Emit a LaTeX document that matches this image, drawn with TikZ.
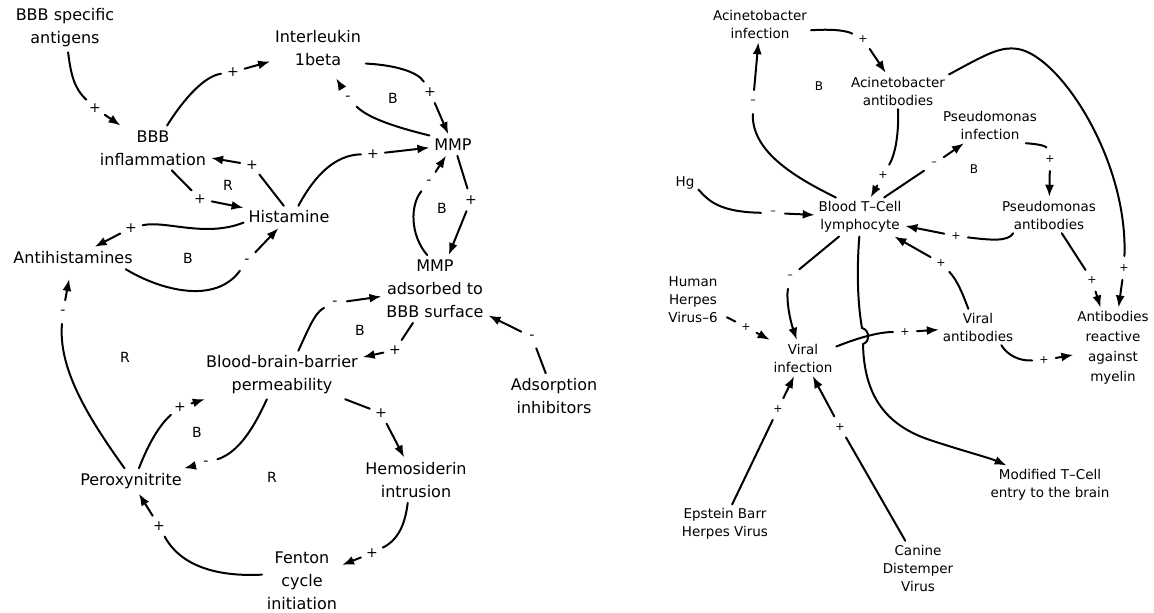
\documentclass[tikz,border=0pt]{standalone}
\usepackage{fontspec}
\setmainfont{DejaVu Sans}
\usetikzlibrary{arrows.meta}
\begin{document}
\begin{tikzpicture}[x=1pt,y=-1pt,
  line width=2pt, line cap=round,
  lab/.style={align=center, inner sep=4pt, font=\fontsize{16}{23}\selectfont},
  rlab/.style={align=center, inner sep=3pt, font=\fontsize{13.5}{18}\selectfont},
  pol/.style={circle, inner sep=0pt, minimum size=22pt, font=\fontsize{14}{14}\selectfont},
  rpol/.style={circle, inner sep=0pt, minimum size=22pt, font=\fontsize{11}{11}\selectfont},
  loopmark/.style={inner sep=0pt, font=\fontsize{14}{14}\selectfont},
  rloopmark/.style={inner sep=0pt, font=\fontsize{12}{12}\selectfont},
  arr/.style={-{Latex[length=12pt,width=9pt]}},
]
\fill[white] (0,0) rectangle (1154,613);
\path[use as bounding box] (0,0) rectangle (1154,613);

% ---------- left loop: blood-brain barrier ----------
\node[lab] (ant)   at (65,28)   {BBB specific\\antigens};
\node[lab] (il)    at (318,48)  {Interleukin\\1beta};
\node[lab] (inf)   at (153,148) {BBB\\inflammation};
\node[lab] (mmp)   at (453,145) {MMP};
\node[lab] (his)   at (289,217) {Histamine};
\node[lab] (ahis)  at (73,258)  {Antihistamines};
\node[lab] (ads)   at (435,289) {MMP\\adsorbed to\\BBB surface};
\node[lab] (bbbp)  at (282,375) {Blood-brain-barrier\\permeability};
\node[lab] (ainh)  at (554,396) {Adsorption\\inhibitors};
\node[lab] (perox) at (131,481) {Peroxynitrite};
\node[lab] (hemo)  at (416,480) {Hemosiderin\\intrusion};
\node[lab] (fen)   at (302,581) {Fenton\\cycle\\initiation};

% loop markers
\node[loopmark] (lb1) at (393,98)  {B};
\node[loopmark] (lr1) at (228,185) {R};
\node[loopmark] (lb2) at (188,258) {B};
\node[loopmark] (lb3) at (442,208) {B};
\node[loopmark] (lb4) at (360,330) {B};
\node[loopmark] (lr2) at (125,357) {R};
\node[loopmark] (lb5) at (197,432) {B};
\node[loopmark] (lr3) at (272,477) {R};

% link polarities
\node[pol] (p1)  at (95,108)  {+};
\node[pol] (p2)  at (233,72)  {+};
\node[pol] (p3)  at (430,92)  {+};
\node[pol] (p4)  at (348,98)  {-};
\node[pol] (p5)  at (373,154) {+};
\node[pol] (p6)  at (252,165) {+};
\node[pol] (p7)  at (200,199) {+};
\node[pol] (p8)  at (131,228) {+};
\node[pol] (p9)  at (247,261) {-};
\node[pol] (p10) at (471,200) {+};
\node[pol] (p11) at (429,182) {-};
\node[pol] (p12) at (532,337) {-};
\node[pol] (p13) at (335,303) {-};
\node[pol] (p14) at (395,350) {+};
\node[pol] (p15) at (180,407) {+};
\node[pol] (p16) at (206,463) {-};
\node[pol] (p17) at (63,312)  {-};
\node[pol] (p18) at (159,526) {+};
\node[pol] (p19) at (381,413) {+};
\node[pol] (p20) at (372,553) {+};

% links
\draw (ant) .. controls (71,75) and (74,88) .. (p1);
\draw[arr] (p1) -- (inf);
\draw (inf) .. controls (185,97) and (205,76) .. (p2);
\draw[arr] (p2) -- (il);
\draw (il.-18) .. controls (395,65) and (418,72) .. (p3);
\draw[arr] (p3) -- (mmp);
\draw (mmp.158) .. controls (395,127) and (368,118) .. (p4);
\draw[arr, shorten >=9pt] (p4) -- (il);
\draw (his.50) .. controls (315,175) and (335,155) .. (p5);
\draw[arr] (p5) -- (mmp);
\draw (his.115) -- (p6);
\draw[arr] (p6) -- (inf);
\draw (inf.-50) -- (p7);
\draw[arr] (p7) -- (his);
\draw (his.187) .. controls (205,238) and (165,220) .. (p8);
\draw[arr] (p8) -- (ahis);
\draw (ahis.-12) .. controls (160,290) and (215,305) .. (p9);
\draw[arr] (p9) -- (his);
\draw (mmp.-68) -- (p10);
\draw[arr] (p10) -- (ads);
\draw (ads.103) .. controls (410,235) and (410,205) .. (p11);
\draw[arr] (p11) -- (mmp);
\draw (ainh.110) -- (p12);
\draw[arr] (p12) -- (ads);
\draw (bbbp.56) .. controls (308,330) and (315,312) .. (p13);
\draw[arr] (p13) -- (ads);
\draw (ads.-123) -- (p14);
\draw[arr] (p14) -- (bbbp);
\draw (perox.58) .. controls (146,450) and (157,427) .. (p15);
\draw[arr] (p15) -- (bbbp);
\draw (bbbp.-122) .. controls (255,425) and (240,452) .. (p16);
\draw[arr] (p16) -- (perox);
\draw (perox.117) .. controls (90,420) and (58,370) .. (p17);
\draw[arr, shorten >=10pt] (p17) -- (ahis);
\draw (fen.171) .. controls (215,577) and (180,565) .. (p18);
\draw[arr] (p18) -- (perox);
\draw (bbbp.-21) -- (p19);
\draw[arr] (p19) -- (hemo);
\draw (hemo.-110) .. controls (405,525) and (398,540) .. (p20);
\draw[arr] (p20) -- (fen);

% ---------- right loop: immune response ----------
\node[rlab] (acinf) at (760,24)   {Acinetobacter\\infection};
\node[rlab] (acab)  at (898,91)   {Acinetobacter\\antibodies};
\node[rlab] (psinf) at (990,125)  {Pseudomonas\\infection};
\node[rlab] (psab)  at (1049,215) {Pseudomonas\\antibodies};
\node[rlab] (hg)    at (685,183)  {Hg};
\node[rlab] (tcell) at (860,217)  {Blood T–Cell\\lymphocyte};
\node[rlab] (hhv)   at (693,300)  {Human\\Herpes\\Virus–6};
\node[rlab] (vinf)  at (803,358)  {Viral\\infection};
\node[rlab] (vab)   at (978,327)  {Viral\\antibodies};
\node[rlab, font=\fontsize{13.5}{20}\selectfont] (abr) at (1113,348) {Antibodies\\reactive\\against\\myelin};
\node[rlab] (mod)   at (1050,485) {Modified T–Cell\\entry to the brain};
\node[rlab] (ebv)   at (725,524)  {Epstein Barr\\Herpes Virus};
\node[rlab] (cdv)   at (918,568)  {Canine\\Distemper\\Virus};

\node[rloopmark] (rb1) at (819,86)  {B};
\node[rloopmark] (rb2) at (974,169) {B};

\node[rpol] (q1)  at (863,39)   {+};
\node[rpol] (q2)  at (753,102)  {–};
\node[rpol] (q3)  at (883,175)  {+};
\node[rpol] (q4)  at (934,164)  {–};
\node[rpol] (q5)  at (1050,159) {+};
\node[rpol] (q6)  at (773,213)  {–};
\node[rpol] (q7)  at (956,236)  {+};
\node[rpol] (q8)  at (941,263)  {+};
\node[rpol] (q9)  at (1092,280) {+};
\node[rpol] (q10) at (1124,268) {+};
\node[rpol] (q11) at (790,277)  {–};
\node[rpol] (q12) at (746,327)  {+};
\node[rpol] (q13) at (905,332)  {+};
\node[rpol] (q14) at (1044,360) {+};
\node[rpol] (q15) at (778,409)  {+};
\node[rpol] (q16) at (840,427)  {+};

\draw (acinf.-7) .. controls (830,29) and (845,30) .. (q1);
\draw[arr] (q1) -- (acab);
\draw (tcell.141) .. controls (790,175) and (752,150) .. (q2);
\draw[arr] (q2) -- (acinf);
\draw (acab.south) .. controls (899,135) and (895,155) .. (q3);
\draw[arr] (q3) -- (tcell);
\draw (tcell.39) -- (q4);
\draw[arr] (q4) -- (psinf);
\draw (psinf.-27) .. controls (1038,144) and (1046,146) .. (q5);
\draw[arr] (q5) -- (psab);
\draw (hg.-26) .. controls (708,200) and (718,212) .. (q6);
\draw[arr] (q6) -- (tcell);
\draw (psab.207) .. controls (1008,242) and (990,240) .. (q7);
\draw[arr] (q7) -- (tcell);
\draw (vab.118) .. controls (962,292) and (957,280) .. (q8);
\draw[arr] (q8) -- (tcell);
\draw (psab.-55) -- (q9);
\draw[arr] (q9) -- (abr);
\draw (acab.18) .. controls (985,55) and (1000,46) .. (1018,49)
      .. controls (1060,56) and (1128,160) .. (q10);
\draw[arr] (q10) -- (abr);
\draw (tcell.-137) -- (q11);
\draw[arr] (q11) .. controls (786,300) and (790,320) .. (vinf);
\draw[shorten <=6pt] (hhv.-27) -- (q12);
\draw[arr] (q12) -- (vinf);
\draw (vinf.19) .. controls (860,337) and (880,332) .. (q13);
\draw[arr] (q13) -- (vab);
\draw (vab.-38) .. controls (1008,356) and (1020,361) .. (q14);
\draw[arr] (q14) -- (abr);
\draw (ebv.70) -- (q15);
\draw[arr] (q15) -- (vinf);
\draw (cdv.115) -- (q16);
\draw[arr] (q16) -- (vinf);
% T-cell entry link, hopping over the viral-antibody link
\draw[arr] (tcell.-92) .. controls (857,265) and (857,300) .. (862,328)
      .. controls (870,330) and (870,342) .. (863,344)
      .. controls (864,395) and (885,425) .. (930,440)
      .. controls (960,450) and (990,458) .. (mod);
\end{tikzpicture}
\end{document}
